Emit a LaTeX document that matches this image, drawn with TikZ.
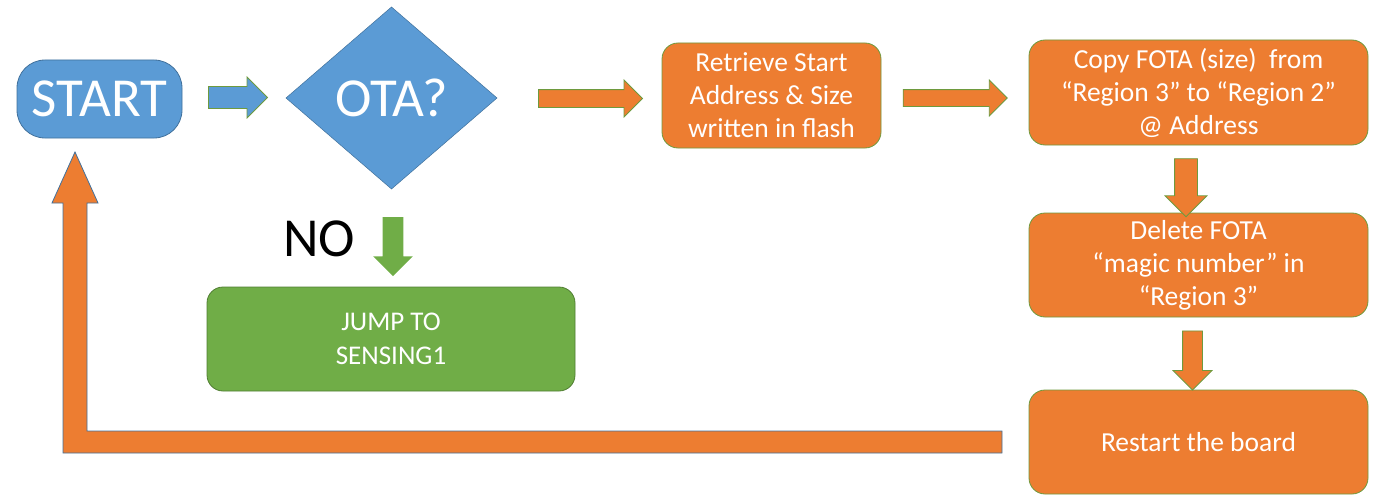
\documentclass[tikz,border=0pt]{standalone}
\usepackage{fontspec}
\setmainfont{Carlito}
\usepackage{tikz}
\usetikzlibrary{arrows, calc, positioning, shapes, shapes.arrows, shapes.geometric}

\definecolor{otablue}{HTML}{5B9BD5}
\definecolor{otablueline}{HTML}{41719C}
\definecolor{otaorange}{HTML}{ED7D31}
\definecolor{otagreen}{HTML}{70AD47}
\definecolor{otagreenline}{HTML}{507E32}
\definecolor{otaedge}{HTML}{6E9A3E}

\begin{document}
\begin{tikzpicture}[x=1pt, y=-1pt, node distance=68pt, font=\fontsize{27.5}{33}\selectfont]
\tikzset{every node/.style={inner sep=0pt, outer sep=0pt, text=white, align=center}}

\tikzstyle{terminal}=[rectangle, rounded corners=28pt, fill=otablue, draw=otablueline, line width=0.8pt, minimum width=165pt, minimum height=78pt, font=\fontsize{55}{64}\selectfont]
\tikzstyle{decision}=[diamond, fill=otablue, draw=otablueline, line width=0.5pt, minimum width=211pt, minimum height=182pt, font=\fontsize{55}{64}\selectfont]
\tikzstyle{process}=[rectangle, rounded corners=16pt, fill=otaorange, draw=otaedge, line width=0.8pt, minimum width=339pt, minimum height=104pt]
\tikzstyle{exit}=[process, fill=otagreen, draw=otagreenline, minimum width=368pt, font=\fontsize{27}{34}\selectfont]
\tikzstyle{flow}=[single arrow, single arrow head extend=9.5pt, fill=otaorange, draw=otaedge, line width=0.8pt, minimum height=104pt]
\tikzstyle{down}=[flow, shape border rotate=270, minimum height=58pt]
\tikzstyle{loopback}=[fill=otaorange, draw=otablueline, line width=0.8pt]

\useasboundingbox (0,0) rectangle (1379,495);

\node[terminal] (start) at (99.5,99) {START};
\node[decision] (ota) at (391.5,98) {OTA?};
\node[process, minimum width=219pt, minimum height=105pt] (retrieve) at (771.5,95.5) {Retrieve Start\\Address \& Size\\written in flash};
\node[process, minimum height=105pt] (copy) at (1198.5,92.5) {Copy FOTA (size)\ \ from\\“Region 3” to “Region 2”\\@ Address};
\node[process, below=of copy] (delete) {Delete FOTA\\“magic number” in\\“Region 3”};
\node[process, below=73pt of delete] (restart) {Restart the board};

\node[text=black, font=\fontsize{55}{64}\selectfont] (no) at (319,238.5) {NO};
\node[exit] (jump) at (391,339) {JUMP TO\\SENSING1};

% block arrows
\node[flow, fill=otablue, minimum height=59pt, inner sep=10.5pt] (start arrow) at (232.5,97.5) {};
\node[flow, inner sep=8.5pt] (ota arrow) at (586,98.5) {};
\node[flow, inner sep=8pt] (retrieve arrow) at (951,98) {};
\node[down, inner sep=11pt] (copy arrow) at (1186,182) {};
\node[down, minimum height=59pt, inner sep=9.5pt] (delete arrow) at (1192.5,355.5) {};
\node[down, fill=otagreen, draw=none, minimum height=59pt, inner sep=10pt] (no arrow) at (393,241.5) {};

% back to start
\coordinate (loop end) at ($(restart.west)+(-27,0)$);
\coordinate (loop tip) at ($(start.south)+(-24.5,14)$);
\draw[loopback] ($(loop end)+(0,-11)$) -- (87,431) -- (87,203) -- (98,203) -- (loop tip)
    -- (52,203) -- (63,203) -- (63,453) -- ($(loop end)+(0,11)$) -- cycle;

\end{tikzpicture}
\end{document}
